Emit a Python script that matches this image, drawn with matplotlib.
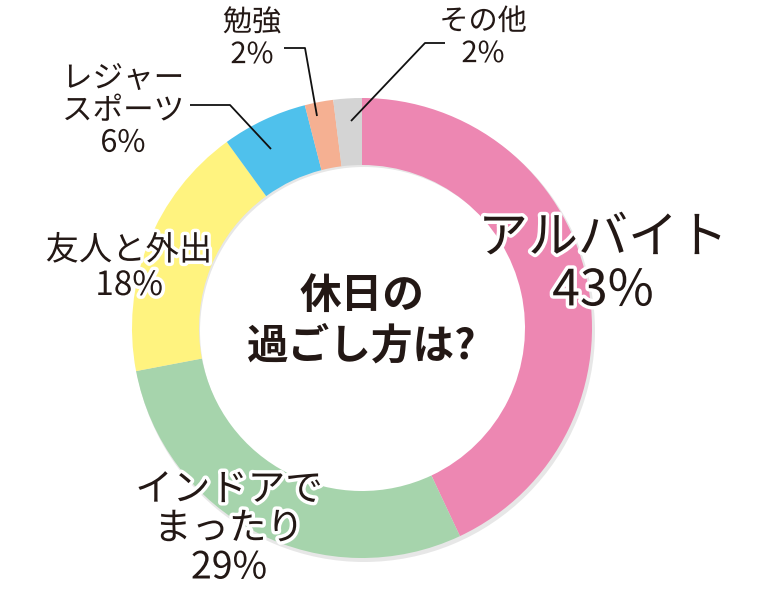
import matplotlib
matplotlib.use("Agg")
import matplotlib.pyplot as plt
import matplotlib.patheffects as pe
from matplotlib.patches import Wedge

plt.rcParams['font.family'] = ['Noto Sans CJK JP', 'DejaVu Sans']

# Data
categories = ["アルバイト", "インドアで\nまったり", "友人と外出", "レジャー\nスポーツ", "勉強", "その他"]
values = [43, 29, 18, 6, 2, 2]
colors = ["#ED87B2", "#A6D4AC", "#FFF37F", "#4FC1EC", "#F5B092", "#D4D4D4"]
title_text = "休日の\n過ごし方は?"

W, H = 767, 596
fig = plt.figure(figsize=(W / 100, H / 100), dpi=100)
ax = fig.add_axes([0, 0, 1, 1])

cx, cy = 362, H - 328
R, r = 230, 163

# faint shadow
ax.add_patch(Wedge((cx + 2, cy - 3), R + 1, 0, 360, width=R - r,
                   facecolor="#BBBBBB", alpha=0.35, edgecolor="none", zorder=0))

ax.pie(values, colors=colors, startangle=90, counterclock=False,
       center=(cx, cy), radius=R, frame=True,
       wedgeprops=dict(width=R - r, edgecolor="none"))
ax.set_xlim(0, W)
ax.set_ylim(0, H)
ax.set_aspect("equal")
ax.axis("off")

txtcol = "#231815"
stroke = [pe.withStroke(linewidth=5, foreground="white")]

def label(x, y, s, size, ls=1.1):
    ax.text(x, H - y, s, fontsize=size, color=txtcol, ha="center", va="center",
            linespacing=ls, path_effects=stroke, zorder=5)

label(603, 265, f"{categories[0]}\n{values[0]}%", 36, 1.02)
label(229, 529, f"{categories[1]}\n{values[1]}%", 27, 1.0)
label(129, 268, f"{categories[2]}\n{values[2]}%", 24, 1.0)
label(123, 111, f"{categories[3]}\n{values[3]}%", 22, 1.05)
label(252, 39, f"{categories[4]}\n{values[4]}%", 21, 1.1)
label(483, 38, f"{categories[5]}\n{values[5]}%", 21, 1.1)

ax.text(362, H - 321, title_text, fontsize=30, fontweight="bold", color=txtcol,
        ha="center", va="center", linespacing=1.25, zorder=5)

# leader lines
lk = dict(color="#111111", lw=1.3, zorder=4, solid_capstyle="butt")
ax.plot([190, 230, 271], [H - 105, H - 105, H - 149], **lk)
ax.plot([284, 305, 317], [H - 48, H - 48, H - 116], **lk)
ax.plot([445, 425, 351], [H - 43, H - 43, H - 121], **lk)

fig.savefig("out.png", dpi=100)
